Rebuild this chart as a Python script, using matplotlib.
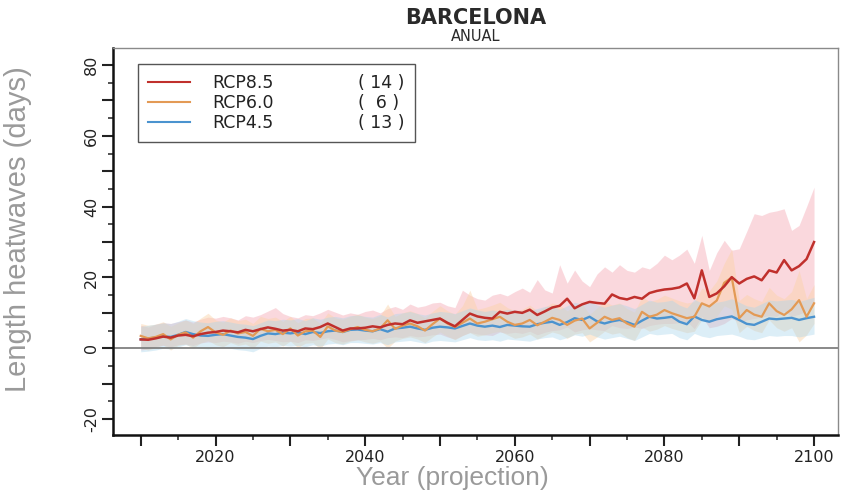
import numpy as np
import matplotlib
matplotlib.use("Agg")
import matplotlib.pyplot as plt
from matplotlib.lines import Line2D
from matplotlib.ticker import MultipleLocator, FuncFormatter

plt.rcParams['font.family'] = ['DejaVu Sans']

years = list(range(2010, 2101))

# RCP8.5 (14 models)
rcp85_mean = [2.5, 2.4, 2.8, 3.3, 3.0, 3.6, 3.8, 3.4, 4.0, 4.4,
              4.6, 5.0, 4.8, 4.5, 5.2, 4.8, 5.4, 5.9, 5.5, 5.0,
              5.2, 4.8, 5.6, 5.4, 6.0, 7.0, 6.0, 5.0, 5.6, 5.6,
              5.8, 6.2, 5.9, 6.6, 7.0, 6.8, 7.9, 7.2, 7.6, 8.0,
              8.4, 7.2, 6.2, 8.0, 9.8, 9.0, 8.6, 8.4, 10.3, 9.8,
              10.3, 10.0, 10.9, 9.4, 10.4, 11.5, 12.0, 14.0, 11.3, 12.4,
              13.1, 12.8, 12.6, 15.2, 14.2, 13.8, 14.5, 14.0, 15.6, 16.2,
              16.6, 16.8, 17.2, 18.3, 14.1, 22.0, 14.5, 15.5, 17.5, 20.1,
              18.3, 19.6, 20.3, 19.2, 22.0, 21.4, 24.9, 22.0, 23.2, 25.2,
              30.0]
rcp85_upper = [6.5, 6.0, 6.8, 7.2, 7.0, 7.5, 8.0, 7.4, 8.2, 8.8,
               8.5, 9.0, 8.6, 8.0, 9.2, 8.8, 9.5, 10.5, 11.5, 9.8,
               9.0, 8.6, 9.5, 9.2, 10.0, 11.0, 10.2, 9.4, 10.0, 9.6,
               10.4, 10.8, 10.0, 11.2, 11.8, 11.0, 12.5, 11.6, 12.0, 12.8,
               13.0, 12.0, 11.5, 16.4, 15.0, 14.0, 13.6, 15.0, 15.5, 14.8,
               16.0, 17.0, 15.8, 19.4, 16.5, 15.6, 23.6, 18.4, 22.1, 19.0,
               17.4, 21.0, 23.0, 21.5, 23.6, 22.0, 21.5, 23.0, 22.4, 24.0,
               26.3, 25.0, 26.3, 28.0, 24.0, 31.9, 22.0, 27.0, 30.5, 27.7,
               28.1, 33.0, 38.0, 37.5, 38.4, 38.8, 39.4, 33.3, 34.7, 40.0,
               45.5]
rcp85_lower = [-0.5, -0.2, 0.5, 0.8, 0.4, 1.0, 1.2, 0.8, 1.5, 1.8,
               1.6, 2.0, 1.8, 1.4, 2.0, 1.6, 2.2, 2.5, 2.2, 1.8,
               2.0, 1.6, 2.4, 2.2, 2.6, 3.0, 2.5, 1.8, 2.2, 2.4,
               2.5, 2.8, 2.4, 3.0, 3.2, 3.0, 3.6, 3.2, 3.4, 3.8,
               4.0, 3.2, 2.6, 3.6, 4.5, 4.0, 3.8, 3.6, 4.6, 4.2,
               4.5, 4.2, 4.8, 3.8, 4.5, 5.0, 5.2, 6.0, 4.6, 5.2,
               5.5, 5.2, 5.0, 6.4, 5.8, 5.6, 6.0, 5.6, 6.4, 6.8,
               7.0, 7.0, 7.2, 7.6, 5.5, 9.0, 5.8, 6.2, 7.0, 8.4,
               7.5, 8.0, 8.4, 8.8, 9.2, 9.0, 10.5, 9.0, 9.6, 10.5,
               12.5]

# RCP6.0 (6 models)
rcp60_mean = [3.5, 2.8, 3.2, 4.0, 2.5, 3.8, 4.5, 3.0, 4.8, 6.0,
              4.5, 3.8, 5.0, 4.2, 4.6, 3.5, 5.5, 4.8, 5.2, 4.0,
              5.6, 3.6, 4.8, 5.0, 3.2, 6.2, 5.0, 4.6, 5.4, 6.0,
              5.2, 4.8, 5.6, 7.9, 5.5, 6.4, 7.0, 6.2, 5.0, 6.8,
              8.4, 7.0, 6.0, 7.2, 8.4, 7.0, 7.5, 8.2, 8.9, 7.5,
              6.6, 7.0, 8.0, 6.5, 7.5, 8.6, 8.0, 6.6, 7.8, 8.4,
              5.6, 7.2, 8.9, 8.0, 8.5, 7.0, 6.1, 10.3, 8.9, 9.5,
              10.8, 9.9, 9.2, 8.5, 8.9, 12.7, 11.8, 13.5, 18.5, 20.0,
              8.5, 10.8, 9.5, 8.9, 12.7, 10.5, 9.4, 11.0, 13.6, 8.9,
              12.7]
rcp60_upper = [7.0, 6.5, 6.8, 7.5, 6.2, 7.2, 8.0, 7.0, 8.5, 9.9,
               8.0, 7.4, 8.6, 7.8, 8.2, 7.0, 9.0, 8.4, 8.8, 7.6,
               9.0, 7.2, 8.4, 8.6, 7.0, 10.0, 8.6, 8.2, 9.0, 9.6,
               8.8, 8.4, 9.2, 12.5, 9.0, 10.0, 10.6, 9.8, 8.6, 10.4,
               12.0, 10.6, 9.6, 12.0, 16.4, 11.0, 11.5, 12.2, 13.0, 11.5,
               10.6, 11.0, 12.2, 10.5, 11.6, 12.8, 12.2, 10.6, 12.0, 12.6,
               9.6, 11.4, 13.2, 12.2, 12.8, 11.2, 10.2, 14.6, 13.2, 13.8,
               15.0, 14.2, 13.4, 12.8, 13.2, 17.0, 16.2, 19.0, 24.0, 28.0,
               13.5, 15.2, 14.0, 13.2, 17.2, 15.0, 14.0, 16.0, 22.0, 14.0,
               18.0]
rcp60_lower = [0.0, -0.5, 0.2, 1.0, -0.5, 0.8, 1.2, 0.0, 1.5, 2.2,
               1.0, 0.4, 1.6, 0.8, 1.2, 0.0, 2.0, 1.4, 1.8, 0.6,
               2.0, 0.2, 1.4, 1.6, -0.2, 2.6, 1.6, 1.2, 2.0, 2.4,
               1.8, 1.4, 2.0, 0.0, 2.0, 2.8, 3.2, 2.6, 1.6, 3.2,
               4.6, 3.4, 2.4, 3.6, 4.4, 3.4, 3.8, 4.4, 4.8, 3.8,
               2.8, 3.2, 4.0, 2.6, 3.6, 4.6, 4.0, 2.8, 4.0, 4.4,
               1.8, 3.2, 4.8, 4.0, 4.4, 3.0, 2.2, 6.0, 4.8, 5.4,
               6.4, 5.6, 5.0, 4.4, 4.8, 8.0, 7.2, 9.0, 12.0, 11.0,
               4.4, 6.2, 5.0, 4.4, 8.0, 5.8, 4.8, 5.8, 1.8, 3.8,
               7.0]

# RCP4.5 (13 models)
rcp45_mean = [2.5, 2.8, 3.0, 3.4, 3.2, 3.8, 4.6, 4.0, 3.6, 3.5,
              3.8, 4.0, 3.6, 3.2, 3.0, 2.6, 3.5, 4.2, 4.0, 4.4,
              4.2, 4.5, 4.0, 4.6, 4.3, 4.8, 5.0, 4.6, 5.2, 5.3,
              5.0, 4.8, 5.4, 4.7, 5.6, 5.8, 6.1, 5.6, 5.2, 5.8,
              6.1, 5.9, 5.6, 6.3, 7.0, 6.4, 6.1, 6.4, 6.0, 6.6,
              6.4, 6.2, 6.1, 6.8, 7.2, 7.5, 6.6, 7.4, 8.5, 8.0,
              8.9, 7.6, 7.0, 7.6, 8.0, 7.4, 6.6, 7.8, 8.9, 8.4,
              8.6, 8.9, 7.5, 6.8, 9.0, 8.0, 7.5, 8.2, 8.6, 9.0,
              8.0, 6.9, 6.6, 7.5, 8.4, 8.2, 8.4, 8.6, 8.0, 8.5,
              8.9]
rcp45_upper = [6.2, 6.5, 6.8, 7.2, 7.0, 7.6, 8.4, 7.8, 7.4, 7.2,
               7.6, 7.8, 7.4, 7.0, 6.8, 6.4, 7.2, 8.0, 7.8, 8.2,
               8.0, 8.4, 7.8, 8.6, 8.2, 8.8, 9.0, 8.6, 9.2, 9.4,
               9.0, 8.8, 9.6, 8.8, 9.8, 10.0, 10.4, 9.8, 9.4, 10.0,
               10.4, 10.2, 9.8, 10.6, 11.4, 10.8, 10.4, 10.8, 10.4, 11.0,
               10.8, 10.6, 10.6, 11.2, 11.8, 12.0, 11.0, 12.0, 13.0, 12.5,
               13.4, 12.2, 11.6, 12.2, 12.6, 12.0, 11.2, 12.4, 13.6, 13.0,
               13.2, 13.6, 12.2, 11.4, 13.8, 12.8, 12.2, 13.0, 13.4, 14.0,
               13.0, 12.0, 11.6, 12.6, 13.6, 13.4, 13.6, 13.8, 13.2, 13.8,
               14.4]
rcp45_lower = [-1.0, -0.8, -0.5, 0.0, -0.2, 0.4, 1.0, 0.4, 0.0, -0.2,
               0.2, 0.4, 0.0, -0.4, -0.6, -1.0, 0.0, 0.6, 0.4, 0.8,
               0.6, 0.8, 0.4, 1.0, 0.6, 1.2, 1.4, 1.0, 1.6, 1.6,
               1.4, 1.2, 1.6, 1.0, 1.8, 2.0, 2.2, 1.8, 1.4, 2.0,
               2.2, 2.0, 1.8, 2.4, 3.0, 2.4, 2.2, 2.4, 2.0, 2.6,
               2.4, 2.2, 2.0, 2.6, 3.0, 3.2, 2.4, 3.0, 3.8, 3.4,
               4.0, 3.2, 2.6, 3.0, 3.4, 2.8, 2.2, 3.2, 4.2, 3.8,
               4.0, 4.2, 3.0, 2.4, 4.2, 3.4, 3.0, 3.6, 3.8, 4.0,
               3.4, 2.6, 2.4, 3.0, 3.6, 3.4, 3.6, 3.6, 3.2, 3.6,
               4.0]

scenarios = ["RCP8.5", "RCP6.0", "RCP4.5"]
n_models = ["( 14 )", "(  6 )", "( 13 )"]

line_colors = {"RCP8.5": "#c0302c", "RCP6.0": "#e39a55", "RCP4.5": "#4b93cf"}
band_colors = {"RCP8.5": "#f6b3bd", "RCP6.0": "#fad2a6", "RCP4.5": "#a9d5ec"}

fig = plt.figure(figsize=(8.41, 4.93), dpi=100)
ax = fig.add_axes([0.1344, 0.1176, 0.862, 0.785])

# shaded model spread
ax.fill_between(years, rcp85_lower, rcp85_upper, color=band_colors["RCP8.5"], alpha=0.5, lw=0)
ax.fill_between(years, rcp60_lower, rcp60_upper, color=band_colors["RCP6.0"], alpha=0.45, lw=0)
ax.fill_between(years, rcp45_lower, rcp45_upper, color=band_colors["RCP4.5"], alpha=0.4, lw=0)

ax.axhline(0, color="#808080", lw=1.3, zorder=1)

# ensemble means
ax.plot(years, rcp45_mean, color=line_colors["RCP4.5"], lw=1.7)
ax.plot(years, rcp60_mean, color=line_colors["RCP6.0"], lw=1.6)
ax.plot(years, rcp85_mean, color=line_colors["RCP8.5"], lw=1.8)

ax.set_xlim(2006.3, 2103.2)
ax.set_ylim(-24.5, 84.8)

# ticks every 10 (labels every 20), short ticks every 5
every20 = FuncFormatter(lambda v, p: f"{v:.0f}" if round(v) % 20 == 0 else "")
ax.xaxis.set_major_locator(MultipleLocator(10))
ax.xaxis.set_minor_locator(MultipleLocator(5))
ax.yaxis.set_major_locator(MultipleLocator(10))
ax.yaxis.set_minor_locator(MultipleLocator(5))
ax.xaxis.set_major_formatter(every20)
ax.yaxis.set_major_formatter(every20)
ax.tick_params(which="major", direction="out", length=8, width=1.5, labelsize=11.5, colors="#222222")
ax.tick_params(which="minor", direction="out", length=3.5, width=1.1, colors="#222222")
ax.tick_params(axis="x", pad=3)
ax.tick_params(axis="y", pad=2)
plt.setp(ax.get_yticklabels(), rotation=90, va="center")

for s in ["left", "bottom"]:
    ax.spines[s].set_linewidth(1.8)
    ax.spines[s].set_color("#111111")
for s in ["top", "right"]:
    ax.spines[s].set_linewidth(1.0)
    ax.spines[s].set_color("#8a8a8a")

# legend: scenario name + number of models
handles = [Line2D([], [], color=line_colors[s], lw=1.5) for s in scenarios]
blanks = [Line2D([], [], color="none") for s in scenarios]
leg = ax.legend(handles + blanks, scenarios + n_models, ncol=2,
                loc="upper left", bbox_to_anchor=(0.0345, 0.9587), borderaxespad=0,
                prop={"family": "DejaVu Sans", "size": 12.5},
                handlelength=2.4, handletextpad=1.26, columnspacing=1.2,
                labelspacing=0.1, borderpad=0.6, fancybox=False, framealpha=1)
leg.get_frame().set_edgecolor("#555555")
leg.get_frame().set_linewidth(1.0)
for t in leg.get_texts():
    t.set_color("#222222")

fig.text(0.5654, 0.964, "BARCELONA", ha="center", va="center", fontsize=15,
         fontweight="semibold", color="#2a2a2a")
fig.text(0.5654, 0.926, "ANUAL", ha="center", va="center", fontsize=10.5, color="#2a2a2a")

fig.text(0.5375, 0.031, "Year (projection)", ha="center", va="center", fontsize=19,
         color="#9a9a9a", family="Liberation Sans")
fig.text(0.021, 0.535, "Length heatwaves (days)", ha="center", va="center", rotation=90,
         fontsize=21, color="#9a9a9a", family="Liberation Sans")

fig.savefig("out.png", dpi=100)
